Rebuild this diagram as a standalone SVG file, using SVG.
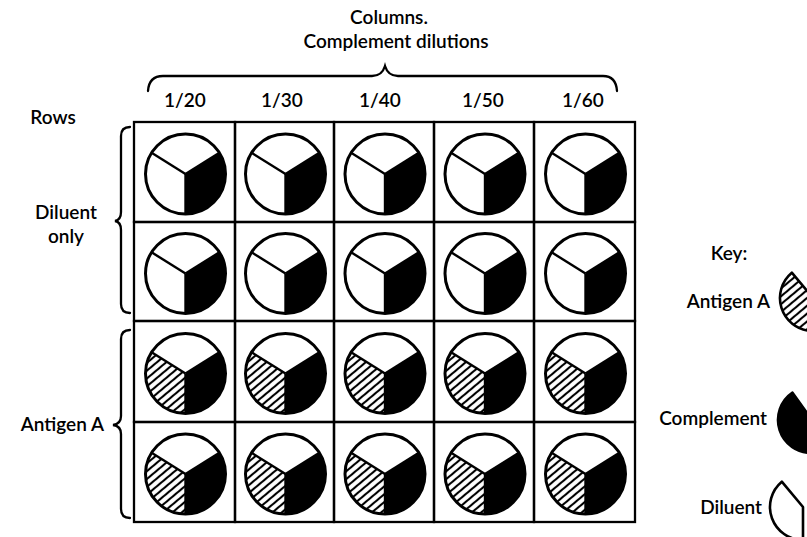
<svg xmlns="http://www.w3.org/2000/svg" xmlns:xlink="http://www.w3.org/1999/xlink" width="807" height="537" viewBox="0 0 807 537">
<style>
  text { font-family: "Lato", "Liberation Sans", sans-serif; font-size: 19px; font-weight: 600; fill: #000; }
  .mid { text-anchor: middle; }
  .end { text-anchor: end; }
  .cell { fill: none; stroke: #000; stroke-width: 2.3; }
  .brace { fill: none; stroke: #000; stroke-width: 2.3; stroke-linecap: round; }
  .ring { fill: none; stroke: #000; stroke-width: 3; }
  .div { stroke: #000; stroke-width: 2.4; }
  .key { stroke: #000; stroke-width: 2.6; stroke-linejoin: round; }
</style>
<defs>
  <pattern id="hatch" patternUnits="userSpaceOnUse" width="6" height="6" patternTransform="rotate(-40)">
    <rect width="6" height="6" fill="#fff"/>
    <line x1="0" y1="3" x2="6" y2="3" stroke="#000" stroke-width="2.1"/>
  </pattern>
  <g id="pieD">
    <circle r="40" fill="#fff"/>
    <path d="M0,0 L0,40 A40,40 0 0 0 33.92,-21.2 Z" fill="#000"/>
    <line class="div" x1="0" y1="0" x2="-33.92" y2="-21.2"/>
    <line class="div" x1="0" y1="0" x2="0" y2="40"/>
    <line class="div" x1="0" y1="0" x2="33.92" y2="-21.2"/>
    <circle class="ring" r="40"/>
  </g>
  <g id="pieA">
    <circle r="40" fill="#fff"/>
    <path d="M0,0 L0,40 A40,40 0 0 0 33.92,-21.2 Z" fill="#000"/>
    <path d="M0,0 L-33.92,-21.2 A40,40 0 0 0 0,40 Z" fill="url(#hatch)"/>
    <line class="div" x1="0" y1="0" x2="-33.92" y2="-21.2"/>
    <line class="div" x1="0" y1="0" x2="0" y2="40"/>
    <line class="div" x1="0" y1="0" x2="33.92" y2="-21.2"/>
    <circle class="ring" r="40"/>
  </g>
</defs>
<rect width="807" height="537" fill="#fff"/>

<g id="header">
  <text class="mid" x="389" y="24">Columns.</text>
  <text class="mid" x="396" y="48">Complement dilutions</text>
  <path class="brace" d="M148,91 Q149,76 163,76 L372,76 Q382,76 385,66 Q388,76 398,76 L603,76 Q616,76 617,91"/>
  <text class="mid" x="185" y="107">1/20</text>
  <text class="mid" x="282" y="107">1/30</text>
  <text class="mid" x="380" y="107">1/40</text>
  <text class="mid" x="483" y="107">1/50</text>
  <text class="mid" x="583" y="107">1/60</text>
</g>

<g id="row-labels">
  <text class="mid" x="53" y="124">Rows</text>
  <text class="mid" x="66" y="219">Diluent</text>
  <text class="mid" x="66" y="243">only</text>
  <path class="brace" d="M130,127 Q121,127 121,136 L121,212 Q121,220 115,221 Q121,222 121,230 L121,304 Q121,313 130,313"/>
  <text class="end" x="104" y="431">Antigen A</text>
  <path class="brace" d="M130,330 Q121,330 121,339 L121,416 Q121,424 113,425 Q121,426 121,434 L121,509 Q121,518 130,518"/>
</g>

<g id="grid">
  <g id="r1c1"><rect class="cell" x="134" y="122" width="101" height="100"/><use xlink:href="#pieD" x="185.5" y="174"/></g>
  <g id="r1c2"><rect class="cell" x="235" y="122" width="99" height="100"/><use xlink:href="#pieD" x="285.5" y="174"/></g>
  <g id="r1c3"><rect class="cell" x="334" y="122" width="100" height="100"/><use xlink:href="#pieD" x="385" y="174"/></g>
  <g id="r1c4"><rect class="cell" x="434" y="122" width="100" height="100"/><use xlink:href="#pieD" x="485" y="174"/></g>
  <g id="r1c5"><rect class="cell" x="534" y="122" width="101" height="100"/><use xlink:href="#pieD" x="585.5" y="174"/></g>

  <g id="r2c1"><rect class="cell" x="134" y="222" width="101" height="99"/><use xlink:href="#pieD" x="185.5" y="273.5"/></g>
  <g id="r2c2"><rect class="cell" x="235" y="222" width="99" height="99"/><use xlink:href="#pieD" x="285.5" y="273.5"/></g>
  <g id="r2c3"><rect class="cell" x="334" y="222" width="100" height="99"/><use xlink:href="#pieD" x="385" y="273.5"/></g>
  <g id="r2c4"><rect class="cell" x="434" y="222" width="100" height="99"/><use xlink:href="#pieD" x="485" y="273.5"/></g>
  <g id="r2c5"><rect class="cell" x="534" y="222" width="101" height="99"/><use xlink:href="#pieD" x="585.5" y="273.5"/></g>

  <g id="r3c1"><rect class="cell" x="134" y="321" width="101" height="101"/><use xlink:href="#pieA" x="185.5" y="373.5"/></g>
  <g id="r3c2"><rect class="cell" x="235" y="321" width="99" height="101"/><use xlink:href="#pieA" x="285.5" y="373.5"/></g>
  <g id="r3c3"><rect class="cell" x="334" y="321" width="100" height="101"/><use xlink:href="#pieA" x="385" y="373.5"/></g>
  <g id="r3c4"><rect class="cell" x="434" y="321" width="100" height="101"/><use xlink:href="#pieA" x="485" y="373.5"/></g>
  <g id="r3c5"><rect class="cell" x="534" y="321" width="101" height="101"/><use xlink:href="#pieA" x="585.5" y="373.5"/></g>

  <g id="r4c1"><rect class="cell" x="134" y="422" width="101" height="100"/><use xlink:href="#pieA" x="185.5" y="474"/></g>
  <g id="r4c2"><rect class="cell" x="235" y="422" width="99" height="100"/><use xlink:href="#pieA" x="285.5" y="474"/></g>
  <g id="r4c3"><rect class="cell" x="334" y="422" width="100" height="100"/><use xlink:href="#pieA" x="385" y="474"/></g>
  <g id="r4c4"><rect class="cell" x="434" y="422" width="100" height="100"/><use xlink:href="#pieA" x="485" y="474"/></g>
  <g id="r4c5"><rect class="cell" x="534" y="422" width="101" height="100"/><use xlink:href="#pieA" x="585.5" y="474"/></g>
</g>

<g id="key">
  <text class="mid" x="729" y="260">Key:</text>
  <g id="key-antigen">
    <text class="end" x="770" y="308">Antigen A</text>
    <path class="key" fill="url(#hatch)" d="M813,298 L791.8,272.7 A33,33 0 0 0 810.1,330.9 Z"/>
  </g>
  <g id="key-complement">
    <text class="end" x="767" y="425">Complement</text>
    <path class="key" fill="#000" d="M812,420 L792.5,392.7 A33,33 0 0 0 812,453 Z"/>
  </g>
  <g id="key-diluent">
    <text class="end" x="762" y="514">Diluent</text>
    <path class="key" fill="#fff" d="M803,507 L781.8,481.7 A33,33 0 0 0 803,540 Z"/>
  </g>
</g>
</svg>
